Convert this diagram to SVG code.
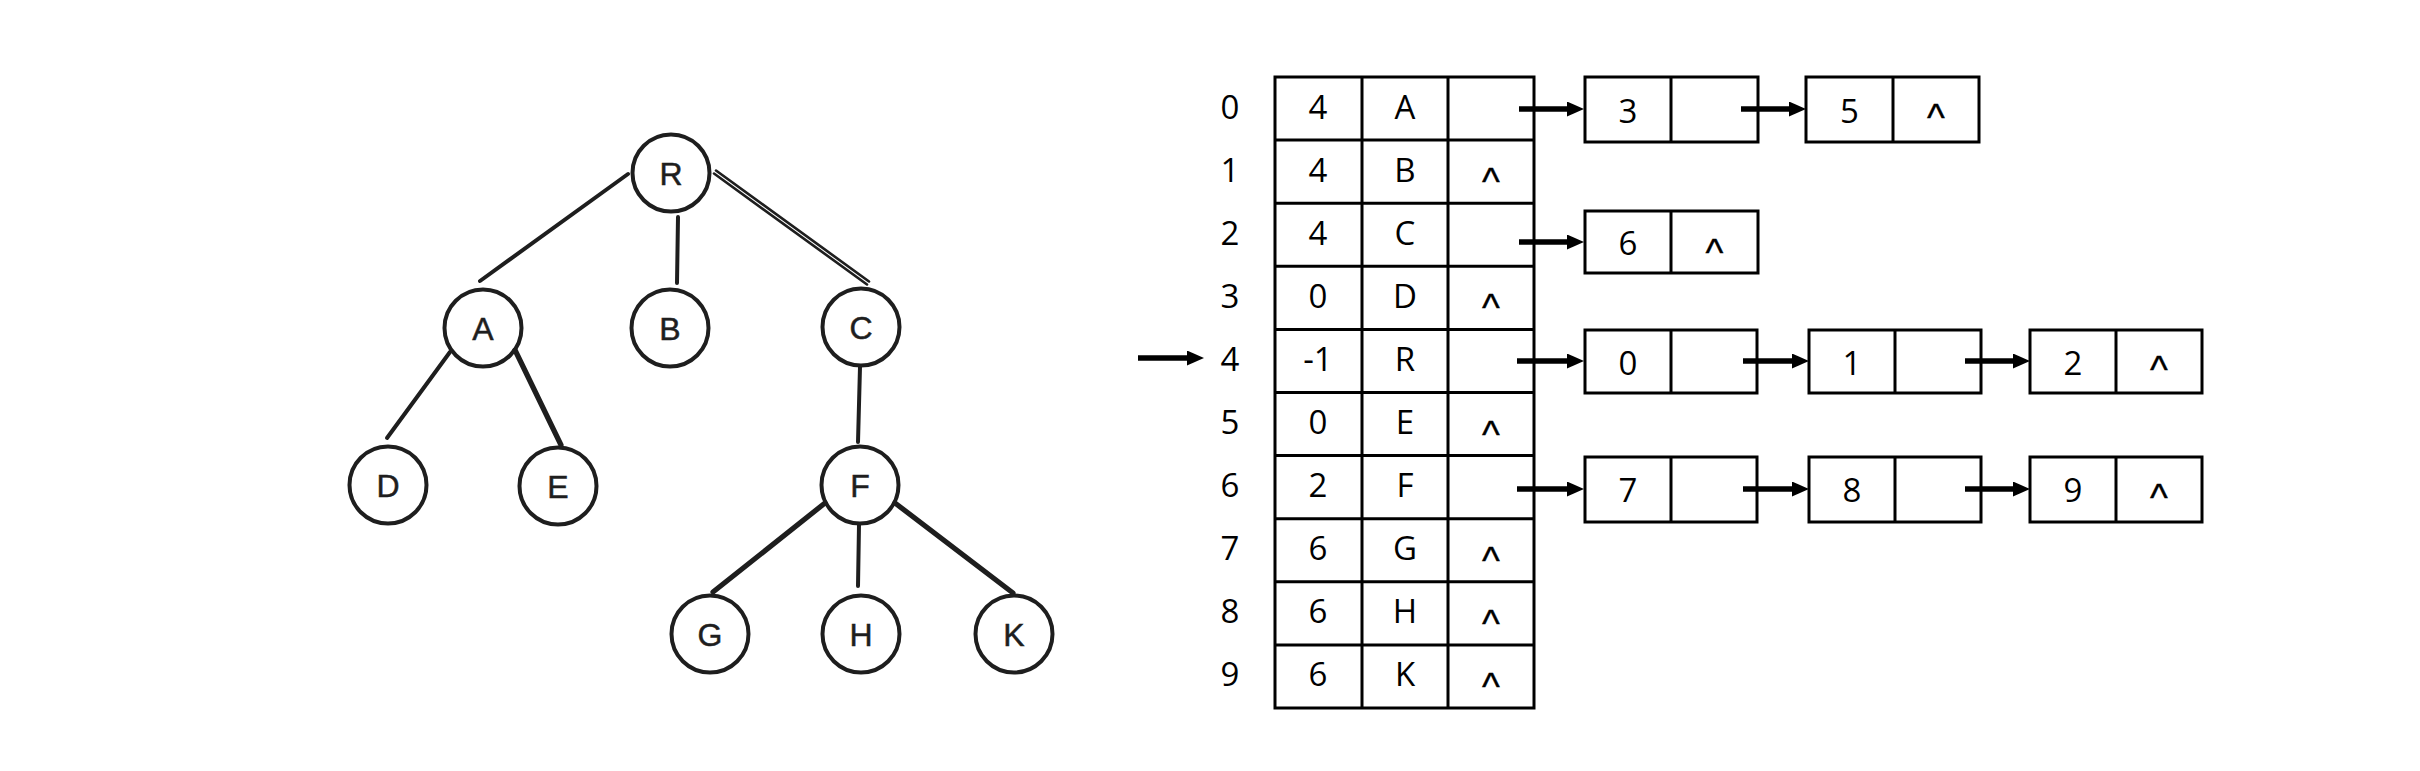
<svg xmlns="http://www.w3.org/2000/svg" width="2420" height="771" viewBox="0 0 2420 771">
<style>
.bg{fill:#ffffff}
.circ{fill:none;stroke:#1e1e1e;stroke-width:4}
.edge{stroke:#1e1e1e;stroke-width:4;stroke-linecap:round;fill:none}
.edge-thick{stroke:#1e1e1e;stroke-width:5.2;stroke-linecap:round;fill:none}
.edge-dbl{stroke:#1e1e1e;stroke-width:2.6;stroke-linecap:round;fill:none}
.tl{font-family:"Liberation Sans",Arial,sans-serif;font-size:32px;fill:#1e1e1e;stroke:#1e1e1e;stroke-width:0.5;text-anchor:middle}
.box{fill:none;stroke:#000;stroke-width:3}
.t{font-family:"Open Sans","Liberation Sans",sans-serif;font-size:33px;fill:#000;text-anchor:middle}
.nul{font-family:"Liberation Sans",Arial,sans-serif;font-size:38px;fill:#000;stroke:#000;stroke-width:0.4;text-anchor:middle}
.arr{stroke:#000;stroke-width:5.5;fill:none;marker-end:url(#ah)}
</style>
<defs>
<marker id="ah" markerUnits="userSpaceOnUse" markerWidth="17" markerHeight="15" refX="7" refY="7.5" orient="auto">
<path d="M0,0 L17,7.5 L0,15 z" fill="#000"/>
</marker>
</defs>
<rect class="bg" x="0" y="0" width="2420" height="771"/>

<g id="tree-edges">
<line class="edge" x1="628" y1="174" x2="480" y2="281"/>
<line class="edge" x1="678" y1="217" x2="677" y2="283"/>
<line class="edge-dbl" x1="714" y1="173.5" x2="867" y2="284.5"/>
<line class="edge-dbl" x1="716" y1="170.5" x2="869" y2="281.5"/>
<line class="edge" x1="450" y1="352" x2="387" y2="438"/>
<line class="edge-thick" x1="515" y1="350" x2="561" y2="445"/>
<line class="edge" x1="860" y1="367" x2="858" y2="442"/>
<line class="edge-thick" x1="825" y1="503" x2="713" y2="592"/>
<line class="edge" x1="859" y1="525" x2="858" y2="586"/>
<line class="edge-thick" x1="895" y1="503" x2="1013" y2="593"/>
</g>

<g id="tree-R"><circle class="circ" cx="671" cy="173" r="38.5"/><text class="tl" x="671" y="185">R</text></g>
<g id="tree-A"><circle class="circ" cx="483" cy="328" r="38.5"/><text class="tl" x="483" y="340">A</text></g>
<g id="tree-B"><circle class="circ" cx="670" cy="328" r="38.5"/><text class="tl" x="670" y="340">B</text></g>
<g id="tree-C"><circle class="circ" cx="861" cy="327" r="38.5"/><text class="tl" x="861" y="339">C</text></g>
<g id="tree-D"><circle class="circ" cx="388" cy="485" r="38.5"/><text class="tl" x="388" y="497">D</text></g>
<g id="tree-E"><circle class="circ" cx="558" cy="486" r="38.5"/><text class="tl" x="558" y="498">E</text></g>
<g id="tree-F"><circle class="circ" cx="860" cy="485" r="38.5"/><text class="tl" x="860" y="497">F</text></g>
<g id="tree-G"><circle class="circ" cx="710" cy="634" r="38.5"/><text class="tl" x="710" y="646">G</text></g>
<g id="tree-H"><circle class="circ" cx="861" cy="634" r="38.5"/><text class="tl" x="861" y="646">H</text></g>
<g id="tree-K"><circle class="circ" cx="1014" cy="634" r="38.5"/><text class="tl" x="1014" y="646">K</text></g>

<g id="table">
<rect class="box" x="1275" y="77" width="259" height="631"/>
<line class="box" x1="1362" y1="77" x2="1362" y2="708"/>
<line class="box" x1="1448" y1="77" x2="1448" y2="708"/>
<line class="box" x1="1275" y1="140.1" x2="1534" y2="140.1"/>
<line class="box" x1="1275" y1="203.2" x2="1534" y2="203.2"/>
<line class="box" x1="1275" y1="266.3" x2="1534" y2="266.3"/>
<line class="box" x1="1275" y1="329.4" x2="1534" y2="329.4"/>
<line class="box" x1="1275" y1="392.5" x2="1534" y2="392.5"/>
<line class="box" x1="1275" y1="455.6" x2="1534" y2="455.6"/>
<line class="box" x1="1275" y1="518.7" x2="1534" y2="518.7"/>
<line class="box" x1="1275" y1="581.8" x2="1534" y2="581.8"/>
<line class="box" x1="1275" y1="644.9" x2="1534" y2="644.9"/>
<g id="index">
<text class="t" x="1230" y="118.5">0</text>
<text class="t" x="1230" y="181.6">1</text>
<text class="t" x="1230" y="244.7">2</text>
<text class="t" x="1230" y="307.8">3</text>
<text class="t" x="1230" y="370.9">4</text>
<text class="t" x="1230" y="434">5</text>
<text class="t" x="1230" y="497.1">6</text>
<text class="t" x="1230" y="560.2">7</text>
<text class="t" x="1230" y="623.3">8</text>
<text class="t" x="1230" y="686.4">9</text>
</g>
<g id="parent">
<text class="t" x="1318" y="118.5">4</text>
<text class="t" x="1318" y="181.6">4</text>
<text class="t" x="1318" y="244.7">4</text>
<text class="t" x="1318" y="307.8">0</text>
<text class="t" x="1318" y="370.9">-1</text>
<text class="t" x="1318" y="434">0</text>
<text class="t" x="1318" y="497.1">2</text>
<text class="t" x="1318" y="560.2">6</text>
<text class="t" x="1318" y="623.3">6</text>
<text class="t" x="1318" y="686.4">6</text>
</g>
<g id="data">
<text class="t" x="1405" y="118.5">A</text>
<text class="t" x="1405" y="181.6">B</text>
<text class="t" x="1405" y="244.7">C</text>
<text class="t" x="1405" y="307.8">D</text>
<text class="t" x="1405" y="370.9">R</text>
<text class="t" x="1405" y="434">E</text>
<text class="t" x="1405" y="497.1">F</text>
<text class="t" x="1405" y="560.2">G</text>
<text class="t" x="1405" y="623.3">H</text>
<text class="t" x="1405" y="686.4">K</text>
</g>
<g id="nulls">
<text class="nul" x="1491" y="195">^</text>
<text class="nul" x="1491" y="321.3">^</text>
<text class="nul" x="1491" y="447.5">^</text>
<text class="nul" x="1491" y="573.7">^</text>
<text class="nul" x="1491" y="636.8">^</text>
<text class="nul" x="1491" y="699.9">^</text>
</g>
</g>

<g id="list-0">
<g id="n0-3"><rect class="box" x="1585" y="77" width="173" height="65"/><line class="box" x1="1671" y1="77" x2="1671" y2="142"/><text class="t" x="1628" y="122.5">3</text></g>
<g id="n0-5"><rect class="box" x="1806" y="77" width="173" height="65"/><line class="box" x1="1893" y1="77" x2="1893" y2="142"/><text class="t" x="1849.5" y="122.5">5</text><text class="nul" x="1936" y="131.4">^</text></g>
</g>
<g id="list-2">
<g id="n2-6"><rect class="box" x="1585" y="211" width="173" height="62"/><line class="box" x1="1671" y1="211" x2="1671" y2="273"/><text class="t" x="1628" y="255">6</text><text class="nul" x="1714.5" y="266">^</text></g>
</g>
<g id="list-4">
<g id="n4-0"><rect class="box" x="1585" y="330" width="172" height="63"/><line class="box" x1="1671" y1="330" x2="1671" y2="393"/><text class="t" x="1628" y="374.5">0</text></g>
<g id="n4-1"><rect class="box" x="1809" y="330" width="172" height="63"/><line class="box" x1="1895" y1="330" x2="1895" y2="393"/><text class="t" x="1852" y="374.5">1</text></g>
<g id="n4-2"><rect class="box" x="2030" y="330" width="172" height="63"/><line class="box" x1="2116" y1="330" x2="2116" y2="393"/><text class="t" x="2073" y="374.5">2</text><text class="nul" x="2159" y="383.4">^</text></g>
</g>
<g id="list-6">
<g id="n6-7"><rect class="box" x="1585" y="457" width="172" height="65"/><line class="box" x1="1671" y1="457" x2="1671" y2="522"/><text class="t" x="1628" y="502">7</text></g>
<g id="n6-8"><rect class="box" x="1809" y="457" width="172" height="65"/><line class="box" x1="1895" y1="457" x2="1895" y2="522"/><text class="t" x="1852" y="502">8</text></g>
<g id="n6-9"><rect class="box" x="2030" y="457" width="172" height="65"/><line class="box" x1="2116" y1="457" x2="2116" y2="522"/><text class="t" x="2073" y="502">9</text><text class="nul" x="2159" y="511.4">^</text></g>
</g>

<g id="connectors">
<line class="arr" x1="1138" y1="358" x2="1194" y2="358"/>
<line class="arr" x1="1519" y1="109" x2="1574" y2="109"/>
<line class="arr" x1="1741" y1="109" x2="1796" y2="109"/>
<line class="arr" x1="1519" y1="242" x2="1574" y2="242"/>
<line class="arr" x1="1517" y1="361" x2="1574" y2="361"/>
<line class="arr" x1="1743" y1="361" x2="1799" y2="361"/>
<line class="arr" x1="1965" y1="361" x2="2020" y2="361"/>
<line class="arr" x1="1517" y1="489" x2="1574" y2="489"/>
<line class="arr" x1="1743" y1="489" x2="1799" y2="489"/>
<line class="arr" x1="1965" y1="489" x2="2020" y2="489"/>
</g>
</svg>
